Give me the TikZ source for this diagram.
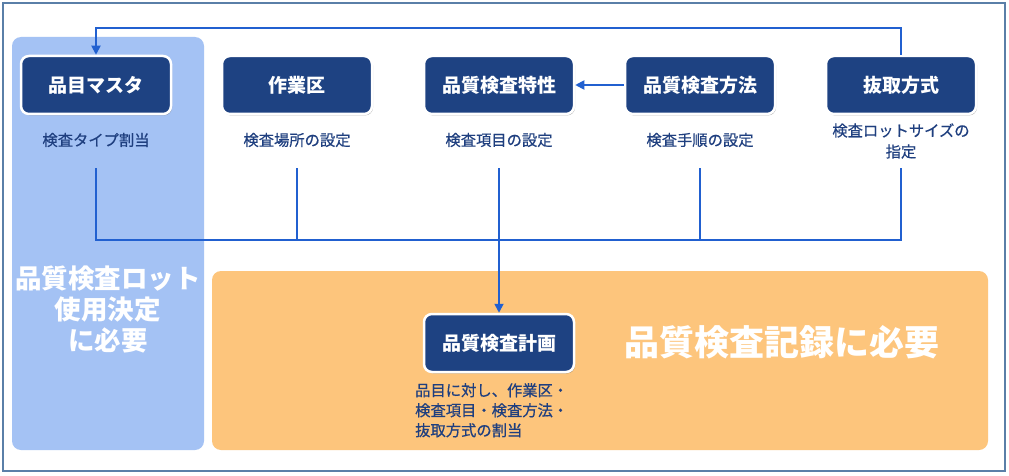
\documentclass[tikz,border=0pt]{standalone}
\usepackage{fontspec}
\setmainfont{Noto Sans CJK JP}
\newfontfamily\medfont{Noto Sans CJK JP}[FakeBold=0.6]
\usetikzlibrary{shadows,arrows.meta}
\definecolor{navy}{HTML}{1E4282}
\definecolor{conn}{HTML}{2160D0}
\definecolor{subtxt}{HTML}{1F3F7F}
\definecolor{bluepanel}{HTML}{A4C2F4}
\definecolor{orangepanel}{HTML}{FDC57C}
\definecolor{framecol}{HTML}{5A7FA8}
\tikzset{
  box/.style={rectangle, rounded corners=8pt, fill=navy, draw=white, line width=2.5pt,
    minimum width=150pt, minimum height=58pt, inner sep=0pt, text=white,
    font=\bfseries\fontsize{19}{20}\selectfont,
    drop shadow={shadow xshift=1pt, shadow yshift=-1.5pt, opacity=0.45, fill=black!60}},
  sub/.style={text=subtxt, font=\medfont\fontsize{15.3}{21}\selectfont, inner sep=0pt, align=center},
  conn/.style={draw=conn, line width=1.8pt},
  tip/.style={-{Triangle[width=9pt,length=9pt]}},
  bigtxt/.style={text=white, font=\bfseries\fontsize{26.5}{31}\selectfont, align=center, inner sep=0pt},
}
\begin{document}
\begin{tikzpicture}[x=1pt,y=-1pt]
\useasboundingbox (0,0) rectangle (1009,476);
\fill[white] (0,0) rectangle (1009,476);
\draw[framecol, line width=1.5pt] (3,3) rectangle (1005,471);
\fill[bluepanel, rounded corners=9pt] (12,37) rectangle (204,450);
\fill[orangepanel, rounded corners=9pt] (212,271) rectangle (988,450);

\node[bigtxt] (lotreq) at (108,309) {品質検査ロット\\使用決定\\に必要};
\node[bigtxt, font=\bfseries\fontsize{35}{40}\selectfont] (recreq) at (782,342) {品質検査記録に必要};

\node[box] (n1) at (96,85) {品目マスタ};
\node[box] (n2) at (297,85) {作業区};
\node[box] (n3) at (499,85) {品質検査特性};
\node[box] (n4) at (700,85) {品質検査方法};
\node[box] (n5) at (901,85) {抜取方式};
\node[box] (plan) at (499,343) {品質検査計画};

\node[sub] (s1) at (96,140) {検査タイプ割当};
\node[sub] (s2) at (297,140) {検査場所の設定};
\node[sub] (s3) at (499,140) {検査項目の設定};
\node[sub] (s4) at (700,140) {検査手順の設定};
\node[sub] (s5) at (901,141) {検査ロットサイズの\\指定};
\node[sub, anchor=north west, align=left, font=\medfont\fontsize{15.3}{20}\selectfont] (s6) at (415,383)
  {品目に対し、作業区・\\検査項目・検査方法・\\抜取方式の割当};

\coordinate (t1) at (96,168);  \coordinate (b1) at (96,240);
\coordinate (t2) at (297,168); \coordinate (b2) at (297,240);
\coordinate (t3) at (499,168); \coordinate (b3) at (499,240);
\coordinate (t4) at (700,168); \coordinate (b4) at (700,240);
\coordinate (t5) at (901,168); \coordinate (b5) at (901,240);

\draw[conn] (t1) -- (b1) -- (b5) -- (t5);
\draw[conn] (t2) -- (b2);
\draw[conn] (t4) -- (b4);
\draw[conn, tip] (t3) -- (plan.north);
\draw[conn, tip] (n4.west) -- (n3.east);
\draw[conn, tip] (n5.north) -- ++(0,-27) -| (n1.north);
\end{tikzpicture}
\end{document}
